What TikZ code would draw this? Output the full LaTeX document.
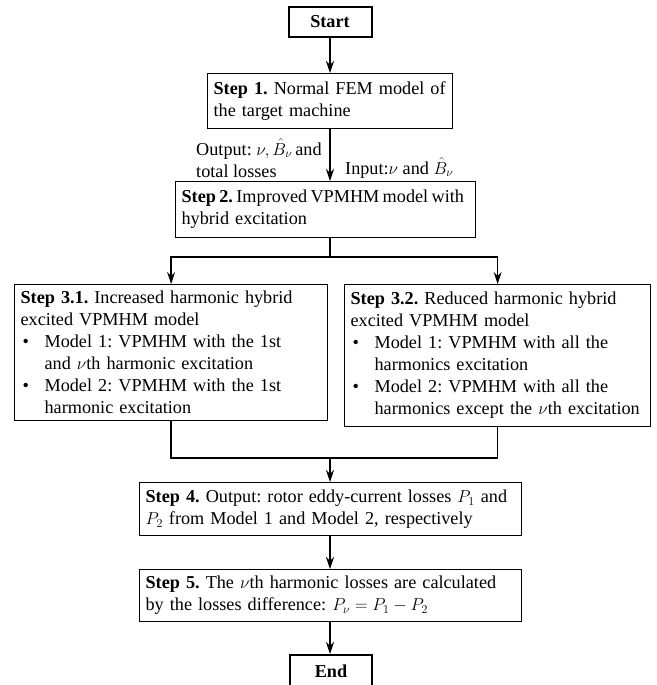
\documentclass[tikz,border=0pt]{standalone}
\usepackage{fontspec}
\setmainfont{Liberation Serif}
\usetikzlibrary{arrows.meta}
\newcommand\bitem{\makebox[24pt][l]{\hspace{2pt}\textbullet}}
\newcommand\bcont{\hspace*{24pt}}
\begin{document}
\frenchspacing
\begin{tikzpicture}[x=1pt,y=-1pt,
  every node/.style={font=\fontsize{18.2}{22}\selectfont},
  stepbox/.style={draw, line width=1.2pt, align=left, inner xsep=6pt, inner ysep=3pt, anchor=north west},
  termbox/.style={draw, line width=2pt, font=\fontsize{18.2}{22}\selectfont\bfseries, inner sep=0pt},
  lbl/.style={inner sep=0pt, align=left, anchor=west},
  arr/.style={line width=1.3pt, -{Stealth[length=12pt,width=8pt]}},
  ln/.style={line width=1.3pt}]
\useasboundingbox (0,0) rectangle (656,685);
\node[termbox, minimum width=83pt, minimum height=30pt] (start) at (330,22) {Start};
\node[stepbox, text width=233pt, minimum height=55pt] (s1) at (207,73)
  {\mbox{\textbf{Step 1.} Normal FEM model of}\\\mbox{the target machine}};
\node[stepbox, text width=288pt, minimum height=56pt] (s2) at (175,181)
  {\mbox{\spaceskip=3.4pt\textbf{Step 2.} Improved VPMHM model with}\\\mbox{hybrid excitation}};
\node[lbl] (out) at (196,158) {Output: $\nu,\hat{B}_\nu$\,and\\total losses};
\node[lbl] (in) at (345,168) {Input:$\nu$ and $\hat{B}_\nu$};
\node[stepbox, text width=301pt, minimum height=136pt] (s31) at (14,284)
  {\mbox{\textbf{Step 3.1.} Increased harmonic hybrid}\\\mbox{excited VPMHM model}\\
   \mbox{\bitem Model 1: VPMHM with the 1st}\\\mbox{\bcont and $\nu$th harmonic excitation}\\
   \mbox{\bitem Model 2: VPMHM with the 1st}\\\mbox{\bcont harmonic excitation}};
\node[stepbox, text width=294pt, minimum height=142pt] (s32) at (344,284)
  {\mbox{\textbf{Step 3.2.} Reduced harmonic hybrid}\\\mbox{excited VPMHM model}\\
   \mbox{\bitem Model 1: VPMHM with all the}\\\mbox{\bcont harmonics excitation}\\
   \mbox{\bitem Model 2: VPMHM with all the}\\\mbox{\bcont harmonics except the $\nu$th excitation}};
\node[stepbox, text width=370pt, minimum height=53pt] (s4) at (139,482)
  {\mbox{\textbf{Step 4.} Output: rotor eddy-current losses $P_1$ and}\\\mbox{$P_2$ from Model 1 and Model 2, respectively}};
\node[stepbox, text width=370pt, minimum height=52pt] (s5) at (139,569)
  {\mbox{\textbf{Step 5.} The $\nu$th harmonic losses are calculated}\\\mbox{by the losses difference: $P_\nu=P_1-P_2$}};
\node[termbox, minimum width=82pt, minimum height=33pt] (end) at (331,671.5) {End};
\coordinate (br) at (330,257);
\coordinate (mg) at (330,458);
\draw[arr] (start.south) -- (s1.north -| start);
\draw[arr] (s1.south -| start) -- (s2.north -| start);
\draw[ln] (s2.south -| br) -- (br);
\draw[arr] (br) -| (s31.north);
\draw[arr] (br) -| (s32.north);
\draw[ln] (s31.south) |- (mg);
\draw[ln] (s32.south) |- (mg);
\draw[arr] (mg) -- (s4.north -| mg);
\draw[arr] (s4.south -| mg) -- (s5.north -| mg);
\draw[arr] (s5.south -| mg) -- (end.north -| mg);
\end{tikzpicture}
\end{document}
